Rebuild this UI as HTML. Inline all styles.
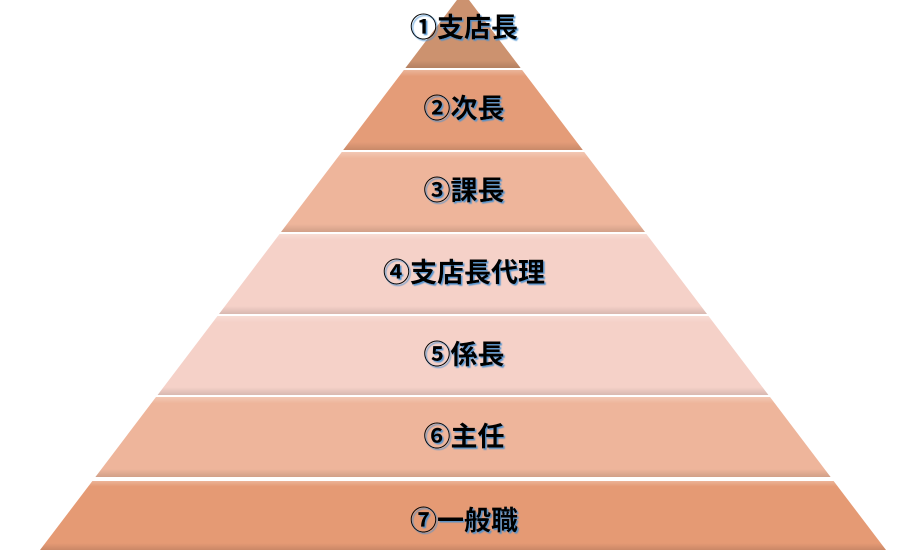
<!DOCTYPE html>
<html><head><meta charset="utf-8"><style>
html,body{margin:0;padding:0;background:#fff;width:921px;height:550px;overflow:hidden}
svg text{font-family:"Liberation Sans","Noto Sans CJK JP",sans-serif;font-weight:bold;font-size:27px;fill:#000}
</style></head><body>
<svg width="921" height="550" viewBox="0 0 921 550" xmlns="http://www.w3.org/2000/svg">
<defs>
<filter id="sh" x="-10%" y="-20%" width="120%" height="140%"><feDropShadow dx="1.5" dy="1.5" stdDeviation="0.6" flood-color="#4a90d0" flood-opacity="0.9"/></filter>
<linearGradient id="bv" x1="0" y1="0" x2="0" y2="1">
<stop offset="0" stop-color="#fff" stop-opacity="0.25"/>
<stop offset="0.08" stop-color="#fff" stop-opacity="0"/>
<stop offset="0.9" stop-color="#000" stop-opacity="0"/>
<stop offset="1" stop-color="#000" stop-opacity="0.12"/>
</linearGradient>
</defs>
<g>
<polygon points="463,-8 520.6,68 405.4,68 " fill="#cc926f"/>
<polygon points="463,-8 520.6,68 405.4,68" fill="url(#bv)"/>
<polygon points="403.9,70 522.1,70 582.8,150 343.2,150" fill="#e49c78"/>
<polygon points="403.9,70 522.1,70 582.8,150 343.2,150" fill="url(#bv)"/>
<polygon points="341.8,152 584.2,152 645,232 281,232" fill="#eeb59b"/>
<polygon points="341.8,152 584.2,152 645,232 281,232" fill="url(#bv)"/>
<polygon points="279.6,234 646.4,234 707,314 219,314" fill="#f5d1c8"/>
<polygon points="279.6,234 646.4,234 707,314 219,314" fill="url(#bv)"/>
<polygon points="217.5,316 708.5,316 768.4,395 157.6,395" fill="#f5d1c8"/>
<polygon points="217.5,316 708.5,316 768.4,395 157.6,395" fill="url(#bv)"/>
<polygon points="156,397 770,397 830.6,477 95.4,477" fill="#eeb59b"/>
<polygon points="156,397 770,397 830.6,477 95.4,477" fill="url(#bv)"/>
<polygon points="92.4,481 833.6,481 886,550 40,550" fill="#e59a74"/>
<polygon points="92.4,481 833.6,481 886,550 40,550" fill="url(#bv)"/>
</g>
<g text-anchor="middle" filter="url(#sh)">
<text x="464" y="37">①支店長</text>
<text x="464" y="118">②次長</text>
<text x="464" y="200">③課長</text>
<text x="464" y="282">④支店長代理</text>
<text x="464" y="364">⑤係長</text>
<text x="464" y="446">⑥主任</text>
<text x="464" y="530">⑦一般職</text>
</g>
</svg>
</body></html>
